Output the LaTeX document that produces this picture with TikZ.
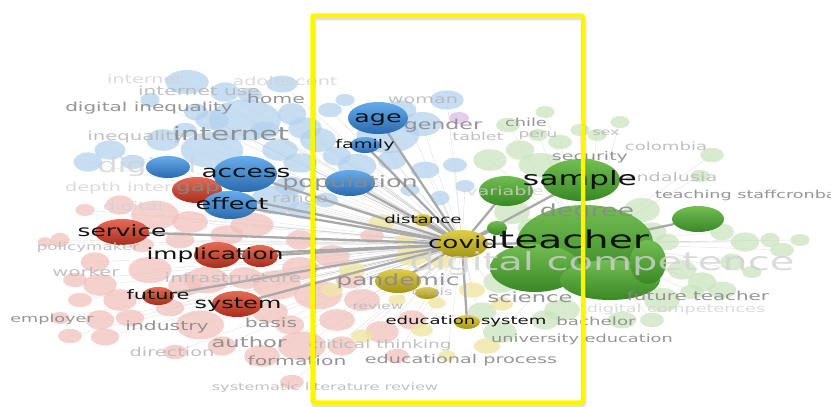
\documentclass[tikz,border=0pt]{standalone}
\usepackage{fontspec}
\newfontfamily\vosfont[FakeStretch=1.6]{DejaVu Sans}
\usetikzlibrary{shapes.geometric}
\definecolor{bluetop}{HTML}{66ACEC}
\definecolor{bluebot}{HTML}{2A6AAE}
\definecolor{redtop}{HTML}{E86A55}
\definecolor{redbot}{HTML}{A62E1E}
\definecolor{grntop}{HTML}{72BE52}
\definecolor{grnbot}{HTML}{3A8826}
\definecolor{yeltop}{HTML}{E0CE48}
\definecolor{yelbot}{HTML}{A49416}
\definecolor{lightblue}{HTML}{B4D2EE}
\definecolor{lightred}{HTML}{F2C2BE}
\definecolor{lightgrn}{HTML}{CCE5BF}
\definecolor{lightyel}{HTML}{EFE7A4}
\definecolor{lightpur}{HTML}{E2CDEB}
\definecolor{labelblack}{HTML}{111111}
\definecolor{labelgray}{HTML}{8A8A8A}
\definecolor{faintgray}{HTML}{B6B6B6}
\definecolor{palegray}{HTML}{D2D2D2}
\definecolor{linkgray}{HTML}{A9A9A9}
\definecolor{frameyellow}{HTML}{FFF500}
\pgfdeclarelayer{wires}
\pgfdeclarelayer{faint}
\pgfdeclarelayer{links}
\pgfsetlayers{wires,faint,links,main}
\tikzset{
  kw/.style 2 args={ellipse,inner sep=0pt,minimum width={2*#1},minimum height={2*#2}},
  bluekw/.style={top color=bluetop,bottom color=bluebot},
  redkw/.style={top color=redtop,bottom color=redbot},
  grnkw/.style={top color=grntop,bottom color=grnbot},
  yelkw/.style={top color=yeltop,bottom color=yelbot},
  lbl/.style={font=\vosfont\fontsize{#1}{#1}\selectfont,text height={0.55*#1pt},text depth=0pt,inner sep=0pt,text=labelblack},
  glbl/.style={lbl=#1,text=labelgray,text opacity=0.9},
  flbl/.style={lbl=#1,text=faintgray,text opacity=0.85},
  plbl/.style={lbl=#1,text=palegray,text opacity=0.8},
  link/.style={draw=linkgray,line width=2.3pt},
  wire/.style={draw=black,opacity=0.12,line width=0.4pt},
  frame/.style={draw=frameyellow,line width=4.5pt,rounded corners=2pt}
}
\begin{document}
\begin{tikzpicture}[x=1pt,y=-1pt]
\useasboundingbox (0,0) rectangle (831,407);
\begin{pgfonlayer}{wires}\fill[white] (0,0) rectangle (831,407);\end{pgfonlayer}

% strong terms
\node[kw={25}{13},redkw] (gap) at (197,190) {};
\node[kw={22}{11},bluekw] (blueb) at (168,167) {};
\node[kw={32}{18},bluekw] (access) at (245,174) {};
\node[kw={27}{14},bluekw] (effect) at (230,205) {};
\node[kw={30}{16},bluekw] (age) at (378,118) {};
\node[kw={15}{8},bluekw] (family) at (365,145) {};
\node[kw={25}{13},bluekw] (population) at (350,183) {};
\node[kw={27}{13},redkw] (service) at (122,232) {};
\node[kw={23}{13},redkw] (impl) at (217,255) {};
\node[kw={18}{11},redkw] (implb) at (260,256) {};
\node[kw={16}{9},redkw] (future) at (158,296) {};
\node[kw={25}{13},redkw] (system) at (237,304) {};
\node[kw={9}{6},yelkw] (distance) at (423,220) {};
\node[kw={23}{12},yelkw] (pandemic) at (398,281) {};
\node[kw={12}{6},yelkw] (crisis) at (427,293) {};
\node[kw={13}{7},yelkw] (edusys) at (467,322) {};
\node[kw={27}{15},grnkw] (grn) at (506,191) {};
\node[kw={26}{13},grnkw] (grnright) at (698,219) {};
\node[kw={68}{38},grnkw] (teacher) at (585,243) {};
\node[kw={45}{24},grnkw] (grnc) at (535,268) {};
\node[kw={50}{20},grnkw] (grnd) at (610,280) {};
\node[kw={18}{22},grnkw] (grne) at (648,262) {};
\node[kw={39}{21},grnkw] (sample) at (581,180) {};
\node[kw={10}{7},grnkw] (grnsmall) at (497,228) {};
\node[kw={26}{14},yelkw] (covid) at (462,244) {};

% faded terms
\foreach[count=\i] \x/\y/\a/\b in {187/82/18/10,225/92/12/8,282/84/13/7,150/100/8/6,196/112/10/7,212/120/14/8,
  245/120/30/17,292/114/12/9,305/128/14/9,110/150/13/8,163/140/14/9,212/150/26/15,280/150/15/9,300/163/14/8,
  133/162/10/6,290/186/13/8,318/140/15/10,337/156/12/8,357/166/16/10,392/160/12/8,388/135/26/15,422/124/16/10,
  402/110/12/8,447/100/14/8,410/190/8/5,302/210/12/7,88/162/12/8,326/200/10/6,275/200/20/12,440/198/8/6,
  465/186/8/5,330/110/10/6,345/100/8/5,265/130/12/7,185/130/10/6,455/165/10/6,425/170/12/7,250/95/10/6}{
  \coordinate (b\i) at (\x,\y);
  \begin{pgfonlayer}{faint}\fill[lightblue,fill opacity=0.75] (b\i) ellipse [x radius=1.2*\a,y radius=1.2*\b];\end{pgfonlayer}
  \begin{pgfonlayer}{wires}\draw[wire] (covid.center) -- (b\i);\end{pgfonlayer}
}
\foreach[count=\i] \x/\y/\a/\b in {120/205/12/8,155/215/20/12,190/222/15/9,60/240/8/6,45/242/6/4,95/262/12/8,
  75/280/10/6,100/285/14/9,120/300/14/9,150/270/18/11,185/285/14/9,207/280/18/11,245/278/14/9,277/285/20/12,
  300/268/15/9,318/295/20/12,270/312/15/9,200/325/20/12,100/320/12/8,70/336/10/6,105/337/12/7,222/346/12/8,
  262/356/15/9,302/346/20/12,337/320/15/9,342/346/12/8,292/382/10/6,175/352/10/6,382/332/14/9,362/300/15/9,
  412/320/12/8,397/356/10/6,227/235/14/8,252/225/18/10,300/240/12/8,332/256/15/9,372/236/10/6,142/245/10/6,
  180/240/12/7,60/318/8/5,85/210/8/5,130/318/12/7,170/308/12/7,290/325/12/8,350/280/12/7,80/300/10/6}{
  \coordinate (r\i) at (\x,\y);
  \begin{pgfonlayer}{faint}\fill[lightred,fill opacity=0.75] (r\i) ellipse [x radius=1.2*\a,y radius=1.2*\b];\end{pgfonlayer}
  \begin{pgfonlayer}{wires}\draw[wire] (covid.center) -- (r\i);\end{pgfonlayer}
}
\foreach[count=\i] \x/\y/\a/\b in {520/150/12/8,540/165/18/10,560/142/10/6,490/160/14/9,512/212/15/10,532/228/12/8,
  520/262/20/12,500/282/14/9,482/312/12/8,500/332/14/9,545/320/12/8,562/310/15/9,642/210/15/10,652/232/12/8,
  667/242/10/7,722/232/10/7,745/242/12/8,770/240/8/6,732/262/10/7,702/282/12/8,662/300/15/10,692/292/10/6,
  722/290/12/7,652/320/10/6,622/320/12/7,712/155/10/6,700/176/8/5,580/130/8/5,620/122/8/5,545/112/8/5,
  752/272/8/5,800/240/8/5,782/250/10/6,642/262/14/9,682/270/12/8,508/125/10/6,538/135/8/5,597/135/8/5}{
  \coordinate (g\i) at (\x,\y);
  \begin{pgfonlayer}{faint}\fill[lightgrn,fill opacity=0.75] (g\i) ellipse [x radius=1.2*\a,y radius=1.2*\b];\end{pgfonlayer}
  \begin{pgfonlayer}{wires}\draw[wire] (teacher.center) -- (g\i);\end{pgfonlayer}
}
\foreach[count=\i] \x/\y/\a/\b in {332/290/10/6,352/270/12/7,412/256/15/9,442/262/10/6,472/290/12/7,502/304/10/6,
  362/336/10/6,397/300/8/5,422/330/10/6,487/346/12/7,447/356/8/5,382/222/12/7,437/303/8/5,405/240/9/5}{
  \coordinate (y\i) at (\x,\y);
  \begin{pgfonlayer}{faint}\fill[lightyel,fill opacity=0.8] (y\i) ellipse [x radius=1.1*\a,y radius=1.1*\b];\end{pgfonlayer}
  \begin{pgfonlayer}{wires}\draw[wire] (covid.center) -- (y\i);\end{pgfonlayer}
}
\coordinate (pur) at (459,118);
\begin{pgfonlayer}{faint}\fill[lightpur] (pur) ellipse [x radius=10,y radius=6];\end{pgfonlayer}

% links of covid
\begin{pgfonlayer}{links}
\foreach \t in {age,family,population,access,effect,gap,service,impl,implb,future,system,
  distance,pandemic,edusys,grn,grnsmall,sample,teacher}
  \draw[link] (covid.center) -- (\t.center);
\draw[link] (teacher.center) -- (grnright.center);
\node[plbl=12] (internet-top) at (145,80) {internet};
\node[plbl=12] (adolescent) at (285,82) {adolescent};
\node[plbl=20] (digital-a) at (147,167) {digital};
\node[plbl=12,anchor=west] (depthinterview) at (65,188) {depth interview};
\node[plbl=12,anchor=west] (digital-b) at (103,207) {digital};
\end{pgfonlayer}

\node[flbl=12.6] (internetuse) at (199,92) {internet use};
\node[glbl=12.5] (diginequality) at (149,108) {digital inequality};
\node[glbl=12.8] (home-l) at (276,100) {home};
\node[flbl=12.3] (inequality) at (136,137) {inequality};
\node[glbl=18.4] (internet) at (231,135) {internet};
\node[flbl=12] (range) at (300,199) {range};
\node[glbl=15.9] (population-l) at (350,183) {population};
\node[glbl=14.5] (gap-l) at (198,188) {gap};
\node[flbl=10.5] (policymaker) at (88,248) {policymaker};
\node[flbl=12.3] (worker) at (86,273) {worker};
\node[flbl=12.5] (infrastructure) at (233,279) {infrastructure};
\node[glbl=11] (employer) at (52,319) {employer};
\node[glbl=12.7] (industry) at (167,327) {industry};
\node[glbl=12.7] (basis) at (271,324) {basis};
\node[glbl=14.2] (author) at (249,344) {author};
\node[flbl=12.1] (direction) at (172,353) {direction};
\node[glbl=12.7] (formation) at (297,362) {formation};
\node[flbl=10.1] (slr) at (325,388) {systematic literature review};
\node[flbl=11.6] (critical) at (380,345) {critical thinking};
\node[glbl=12] (eduprocess) at (461,360) {educational process};
\node[flbl=9.6] (review) at (378,307) {review};
\node[flbl=10] (crisis-l) at (432,293) {crisis};
\node[glbl=15.6] (pandemic-l) at (398,281) {pandemic};
\node[flbl=12] (woman) at (423,100) {woman};
\node[glbl=13.8] (gender) at (443,126) {gender};
\node[flbl=10.9] (tablet) at (478,138) {tablet};
\node[glbl=11.1] (chile) at (526,123) {chile};
\node[flbl=10.6] (peru) at (538,135) {peru};
\node[flbl=9.8] (sex) at (606,133) {sex};
\node[flbl=11.3] (colombia) at (666,147) {colombia};
\node[glbl=11.9] (security) at (590,157) {security};
\node[flbl=12] (andalusia) at (671,178) {andalusia};
\node[glbl=11,anchor=west] (staff) at (655,195) {teaching staffcronbach};
\node[plbl=12] (variable) at (505,192) {variable};
\node[glbl=16.8] (degree) at (587,212) {degree};
\node[plbl=25] (digcomp) at (602,264) {digital competence};
\node[glbl=14.1] (science) at (530,299) {science};
\node[glbl=12.4] (futureteacher) at (698,297) {future teacher};
\node[plbl=11] (digcomps) at (676,309) {digital competences};
\node[glbl=11.4] (bachelor) at (596,322) {bachelor};
\node[glbl=11.1] (unied) at (582,339) {university education};

% highlighted labels
\node[lbl=15.8] (age-l) at (378,118) {age};
\node[lbl=12] (family-l) at (365,145) {family};
\node[lbl=16.5] (access-l) at (246,173) {access};
\node[lbl=15.9] (effect-l) at (232,205) {effect};
\node[lbl=15.5] (service-l) at (122,232) {service};
\node[lbl=15.5] (impl-l) at (215,255) {implication};
\node[lbl=13] (future-l) at (158,296) {future};
\node[lbl=15] (system-l) at (238,304) {system};
\node[lbl=11.4] (distance-l) at (423,220) {distance};
\node[lbl=11.3] (edusys-l) at (466,321) {education system};
\node[lbl=19.6] (sample-l) at (580,180) {sample};
\node[lbl=16.4] (covid-l) at (463,244) {covid};
\node[lbl=24.5] (teacher-l) at (574,242) {teacher};

\draw[frame,draw=black,opacity=0.12] (313.5,18) rectangle (584,405);
\draw[frame] (312.5,15.5) rectangle (583,402.5);
\end{tikzpicture}
\end{document}
